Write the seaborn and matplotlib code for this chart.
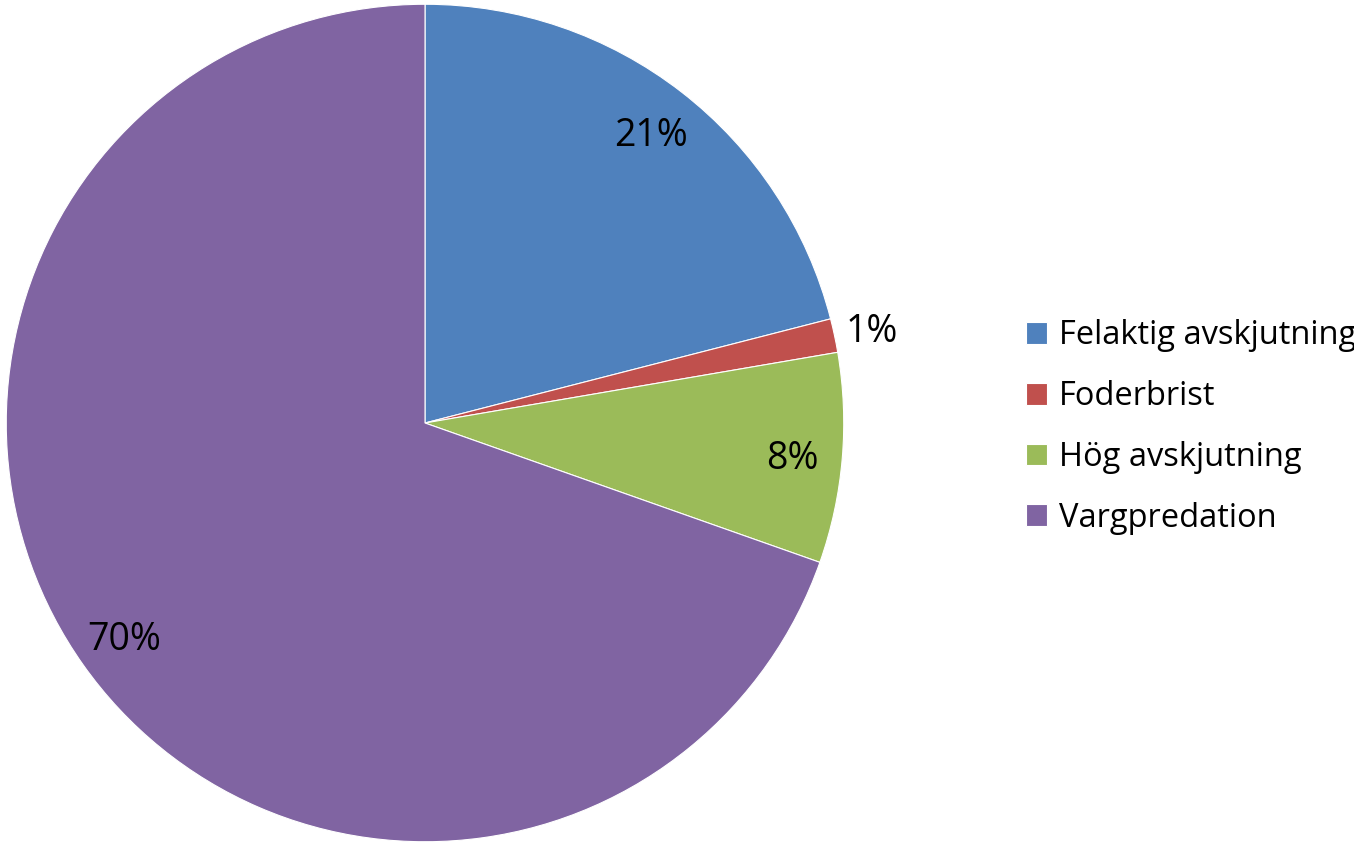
import numpy as np
import matplotlib
matplotlib.use("Agg")
import matplotlib.pyplot as plt
import seaborn as sns

sns.set_style("white")
plt.rcParams["font.family"] = ["Open Sans", "DejaVu Sans"]

# data
categories = ["Felaktig avskjutning", "Foderbrist", "Hög avskjutning", "Vargpredation"]
shares = [21.0, 1.3, 8.1, 69.6]
colors = ["#4F81BD", "#C0504D", "#9BBB59", "#8064A2"]

fig = plt.figure(figsize=(13.54, 8.44), dpi=100)
ax = fig.add_axes([5 / 1354, 1 / 844, 840 / 1354, 840 / 844])

wedges, texts, autotexts = ax.pie(
    shares,
    colors=colors,
    startangle=90,
    counterclock=False,
    autopct="%1.0f%%",
    pctdistance=0.88,
    wedgeprops=dict(linewidth=0.8, edgecolor="white"),
    textprops=dict(fontsize=27, color="black", va="center_baseline"),
)
ax.set_xlim(-1.003, 1.003)
ax.set_ylim(-1.003, 1.003)
ax.set_aspect("equal")

# the tiny slice gets its label outside the pie
w = wedges[1]
mid = np.deg2rad((w.theta1 + w.theta2) / 2)
autotexts[1].set_position((1.09 * np.cos(mid), 1.09 * np.sin(mid)))

fig.legend(
    wedges,
    categories,
    loc="center left",
    bbox_to_anchor=(1026 / 1354, 0.494),
    frameon=False,
    borderpad=0,
    borderaxespad=0,
    fontsize=23.5,
    labelcolor="black",
    handlelength=0.65,
    handleheight=0.65,
    handletextpad=0.35,
    labelspacing=0.85,
)

fig.savefig("out.png", dpi=100)
